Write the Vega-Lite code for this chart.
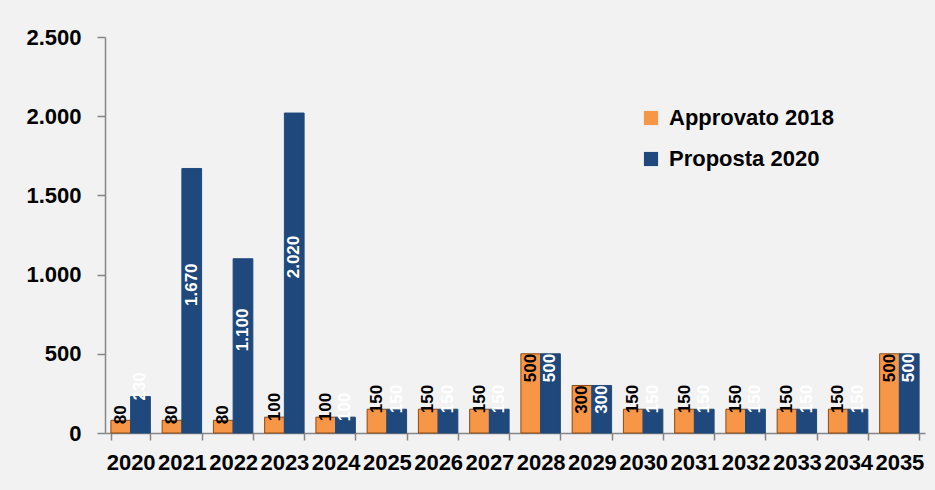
{
  "$schema": "https://vega.github.io/schema/vega-lite/v6.json",
  "width": 820,
  "height": 396,
  "autosize": {"type": "none"},
  "padding": {"left": 105, "top": 37, "right": 10, "bottom": 57},
  "background": "#f2f2f2",
  "config": {
    "locale": {"number": {"decimal": ",", "thousands": ".", "grouping": [3], "currency": ["€", ""]}},
    "view": {"stroke": null},
    "font": "Liberation Sans"
  },
  "data": {
    "values": [
      {"year": "2020", "series": "Approvato 2018", "value": 80},
      {"year": "2020", "series": "Proposta 2020", "value": 230},
      {"year": "2021", "series": "Approvato 2018", "value": 80},
      {"year": "2021", "series": "Proposta 2020", "value": 1670},
      {"year": "2022", "series": "Approvato 2018", "value": 80},
      {"year": "2022", "series": "Proposta 2020", "value": 1100},
      {"year": "2023", "series": "Approvato 2018", "value": 100},
      {"year": "2023", "series": "Proposta 2020", "value": 2020},
      {"year": "2024", "series": "Approvato 2018", "value": 100},
      {"year": "2024", "series": "Proposta 2020", "value": 100},
      {"year": "2025", "series": "Approvato 2018", "value": 150},
      {"year": "2025", "series": "Proposta 2020", "value": 150},
      {"year": "2026", "series": "Approvato 2018", "value": 150},
      {"year": "2026", "series": "Proposta 2020", "value": 150},
      {"year": "2027", "series": "Approvato 2018", "value": 150},
      {"year": "2027", "series": "Proposta 2020", "value": 150},
      {"year": "2028", "series": "Approvato 2018", "value": 500},
      {"year": "2028", "series": "Proposta 2020", "value": 500},
      {"year": "2029", "series": "Approvato 2018", "value": 300},
      {"year": "2029", "series": "Proposta 2020", "value": 300},
      {"year": "2030", "series": "Approvato 2018", "value": 150},
      {"year": "2030", "series": "Proposta 2020", "value": 150},
      {"year": "2031", "series": "Approvato 2018", "value": 150},
      {"year": "2031", "series": "Proposta 2020", "value": 150},
      {"year": "2032", "series": "Approvato 2018", "value": 150},
      {"year": "2032", "series": "Proposta 2020", "value": 150},
      {"year": "2033", "series": "Approvato 2018", "value": 150},
      {"year": "2033", "series": "Proposta 2020", "value": 150},
      {"year": "2034", "series": "Approvato 2018", "value": 150},
      {"year": "2034", "series": "Proposta 2020", "value": 150},
      {"year": "2035", "series": "Approvato 2018", "value": 500},
      {"year": "2035", "series": "Proposta 2020", "value": 500}
    ]
  },
  "encoding": {
    "x": {
      "field": "year", "type": "nominal", "title": null,
      "scale": {"paddingInner": 0.23, "paddingOuter": 0.115},
      "axis": {
        "labelAngle": 0, "labelFontSize": 22, "labelFontWeight": "bold", "labelColor": "#000000",
        "labelPadding": 12, "tickBand": "extent", "tickSize": 7, "tickColor": "#868686", "tickWidth": 1.5,
        "domainColor": "#868686", "domainWidth": 1.5
      }
    },
    "xOffset": {"field": "series", "type": "nominal", "sort": ["Approvato 2018", "Proposta 2020"]}
  },
  "layer": [
    {
      "mark": {"type": "bar", "strokeWidth": 1},
      "encoding": {
        "y": {
          "field": "value", "type": "quantitative", "title": null,
          "scale": {"domain": [0, 2500], "nice": false},
          "axis": {
            "values": [0, 500, 1000, 1500, 2000, 2500], "grid": false, "format": ",.0f",
            "labelFontSize": 22, "labelFontWeight": "bold", "labelColor": "#000000", "labelPadding": 16,
            "tickSize": 8, "tickColor": "#868686", "tickWidth": 1.5,
            "domainColor": "#868686", "domainWidth": 1.5
          }
        },
        "color": {
          "field": "series", "type": "nominal", "title": null,
          "scale": {"domain": ["Approvato 2018", "Proposta 2020"], "range": ["#F79646", "#1F497D"]},
          "legend": {
            "orient": "none", "legendX": 535, "legendY": 70,
            "symbolType": "square", "symbolSize": 200, "symbolStrokeWidth": 0,
            "labelFontSize": 22, "labelFontWeight": "bold", "labelColor": "#000000", "labelLimit": 400,
            "rowPadding": 19, "labelOffset": 7
          }
        },
        "stroke": {
          "condition": {"test": "datum.series == 'Approvato 2018'", "value": "#8a4a14"},
          "value": "#1F497D"
        }
      }
    },
    {
      "transform": [{"filter": "datum.value < 300"}],
      "mark": {"type": "text", "angle": -90, "align": "left", "baseline": "middle", "dx": -4, "fontSize": 17, "fontWeight": "bold"},
      "encoding": {
        "y": {"field": "value", "type": "quantitative"},
        "text": {"field": "value", "type": "quantitative", "format": ","},
        "color": {"condition": {"test": "datum.series == 'Approvato 2018'", "value": "#000000"}, "value": "#ffffff"}
      }
    },
    {
      "transform": [{"filter": "datum.value >= 300 && datum.value < 1000"}],
      "mark": {"type": "text", "angle": -90, "align": "right", "baseline": "middle", "dx": 0, "fontSize": 17, "fontWeight": "bold"},
      "encoding": {
        "y": {"field": "value", "type": "quantitative"},
        "text": {"field": "value", "type": "quantitative", "format": ","},
        "color": {"condition": {"test": "datum.series == 'Approvato 2018'", "value": "#000000"}, "value": "#ffffff"}
      }
    },
    {
      "transform": [{"filter": "datum.value >= 1000"}, {"calculate": "datum.value / 2", "as": "mid"}],
      "mark": {"type": "text", "angle": -90, "align": "center", "baseline": "middle", "dx": 16, "fontSize": 17, "fontWeight": "bold"},
      "encoding": {
        "y": {"field": "mid", "type": "quantitative"},
        "text": {"field": "value", "type": "quantitative", "format": ","},
        "color": {"condition": {"test": "datum.series == 'Approvato 2018'", "value": "#000000"}, "value": "#ffffff"}
      }
    }
  ]
}
